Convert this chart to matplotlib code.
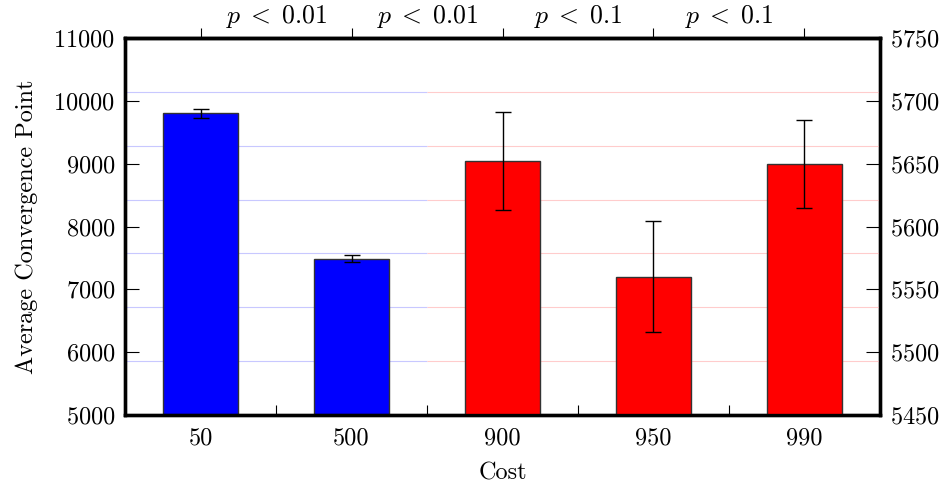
"""
Average convergence point per cost setting, two y scales.
Blue bars use the left axis, red bars the right axis.
"""

import matplotlib

matplotlib.use("Agg")
import matplotlib.pyplot as plt
import numpy as np

plt.rcParams["font.family"] = "serif"
plt.rcParams["font.serif"] = ["cmr10"]
plt.rcParams["mathtext.fontset"] = "cm"
plt.rcParams["axes.formatter.use_mathtext"] = True

costs = ["50", "500", "900", "950", "990"]
left_vals = [9800, 7490]
left_err = [75, 50]
right_vals = [5652, 5560, 5650]
right_err = [39, 44, 35]
p_labels = [r"$p\;<\;0.01$", r"$p\;<\;0.01$", r"$p\;<\;0.1$", r"$p\;<\;0.1$"]

FS = 17.5
SPINE_W = 2.4

x = np.arange(len(costs))
x_left = x[: len(left_vals)]
x_right = x[len(left_vals):]
mids = (x[:-1] + x[1:]) / 2

fig = plt.figure(figsize=(9.45, 4.88), dpi=100)
ax = fig.add_axes([0.1323, 0.1496, 0.7989, 0.7725])
ax2 = ax.twinx()

ax.set_xlim(-0.5, len(costs) - 0.5)
ax.set_ylim(5000, 11000)
ax2.set_ylim(5450, 5750)

# light grid split between the two axes at the gap after the blue bars
split = (x_left[-1] + x_right[0]) / 2
grid_y = np.arange(1, 7) / 7
ax.hlines(grid_y, -0.5, split, transform=ax.get_xaxis_transform(),
          colors="#c8c8ff", linewidth=0.8, zorder=0)
ax2.hlines(grid_y, split, len(costs) - 0.5, transform=ax2.get_xaxis_transform(),
           colors="#ffcccc", linewidth=0.8, zorder=0)

err_kw = dict(ecolor="black", elinewidth=1.0, capsize=5.5, capthick=1.0)
ax.bar(x_left, left_vals, width=0.5, color="#0000ff", edgecolor="#333333",
       linewidth=1.0, yerr=left_err, error_kw=err_kw, zorder=2)
ax2.bar(x_right, right_vals, width=0.5, color="#ff0000", edgecolor="#333333",
        linewidth=1.0, yerr=right_err, error_kw=err_kw, zorder=2)

# bottom axis: category labels, small inward ticks between bars
ax.set_xticks(x, costs)
ax.set_xticks(mids, minor=True)
ax.tick_params(axis="x", which="major", length=0, pad=9, labelsize=FS)
ax.tick_params(axis="x", which="minor", direction="in", length=7, width=0.8)
ax.set_xlabel("Cost", fontsize=FS, labelpad=9)

ax.set_yticks(range(5000, 11001, 1000))
ax.tick_params(axis="y", direction="in", length=10, width=0.8, pad=7, labelsize=FS)
ax.set_ylabel("Average Convergence Point", fontsize=FS, labelpad=11)

ax2.set_yticks(range(5450, 5751, 50))
ax2.tick_params(axis="y", direction="in", length=10, width=0.8, pad=7, labelsize=FS)

# top axis: ticks over bars, p-values between neighbouring bars
top = ax.secondary_xaxis("top")
top.set_xticks(x, [""] * len(costs))
top.set_xticks(mids, p_labels, minor=True)
top.tick_params(axis="x", which="major", direction="out", length=7, width=0.8)
top.tick_params(axis="x", which="minor", length=0, pad=6, labelsize=18.5)

for a in (ax, ax2):
    for s in a.spines.values():
        s.set_linewidth(SPINE_W)
top.spines["top"].set_linewidth(SPINE_W)

fig.savefig("out.png", dpi=100)
